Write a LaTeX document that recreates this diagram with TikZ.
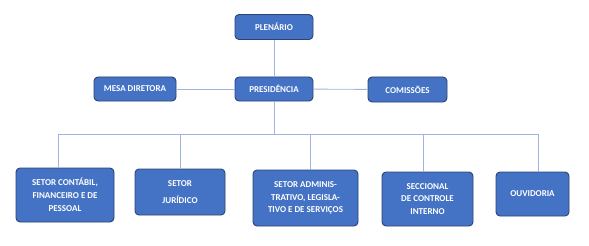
\documentclass[tikz,border=0pt]{standalone}
\usepackage{fontspec}
\setmainfont{Carlito}[BoldFont={Carlito Bold}]
\definecolor{boxblue}{HTML}{4472C4}
\definecolor{boxline}{HTML}{2B4470}
\definecolor{linkblue}{HTML}{9DB5E0}
\begin{document}
\begin{tikzpicture}[
x=1pt, y=-1pt,
box/.style={
draw=boxline,
fill=boxblue,
line width=0.9pt,
rounded corners=4pt,
align=center,
text=white,
inner sep=0pt,
font=\bfseries\fontsize{9}{12.8}\selectfont
},
link/.style={
draw=linkblue,
line width=0.9pt
}
]

\useasboundingbox (0,0) rectangle (589,246);

\node[box, minimum width=78pt, minimum height=25pt] (P) at (274,27)
{PLENÁRIO};

\node[box, minimum width=78pt, minimum height=24pt] (Pr) at (274,89)
{PRESIDÊNCIA};

\node[box, minimum width=82pt, minimum height=24pt] (M) at (135,89)
{MESA DIRETORA};

\node[box, minimum width=79pt, minimum height=25pt] (C) at (407.5,89.5)
{COMISSÕES};

\node[box, minimum width=98pt, minimum height=54pt] (S1) at (65,195)
{SETOR CONTÁBIL,\\FINANCEIRO E DE\\PESSOAL};

\node[box, minimum width=90pt, minimum height=46pt] (S2) at (180,192)
{SETOR\\[4pt]JURÍDICO};

\node[box, minimum width=105pt, minimum height=56pt] (S3) at (305.5,198)
{SETOR ADMINIS-\\TRATIVO, LEGISLA-\\TIVO E DE SERVIÇOS};

\node[box, minimum width=91pt, minimum height=54pt] (S4) at (427.5,199)
{SECCIONAL\\DE CONTROLE\\INTERNO};

\node[box, minimum width=73pt, minimum height=44pt] (S5) at (532.5,194)
{OUVIDORIA};

\coordinate (b) at (274,134);
\coordinate (d1) at (58,134);
\coordinate (d2) at (180,134);
\coordinate (d3) at (310,134);
\coordinate (d4) at (423,134);
\coordinate (d5) at (538,134);

\draw[link] (P) -- (Pr);
\draw[link] (M) -- (Pr);
\draw[link] (Pr) -- (C);
\draw[link] (Pr) -- (b);
\draw[link] (d1) -- (d5);
\foreach \i in {1,...,5}
\draw[link] (d\i) -- (d\i |- S\i.north);

\end{tikzpicture}
\end{document}
